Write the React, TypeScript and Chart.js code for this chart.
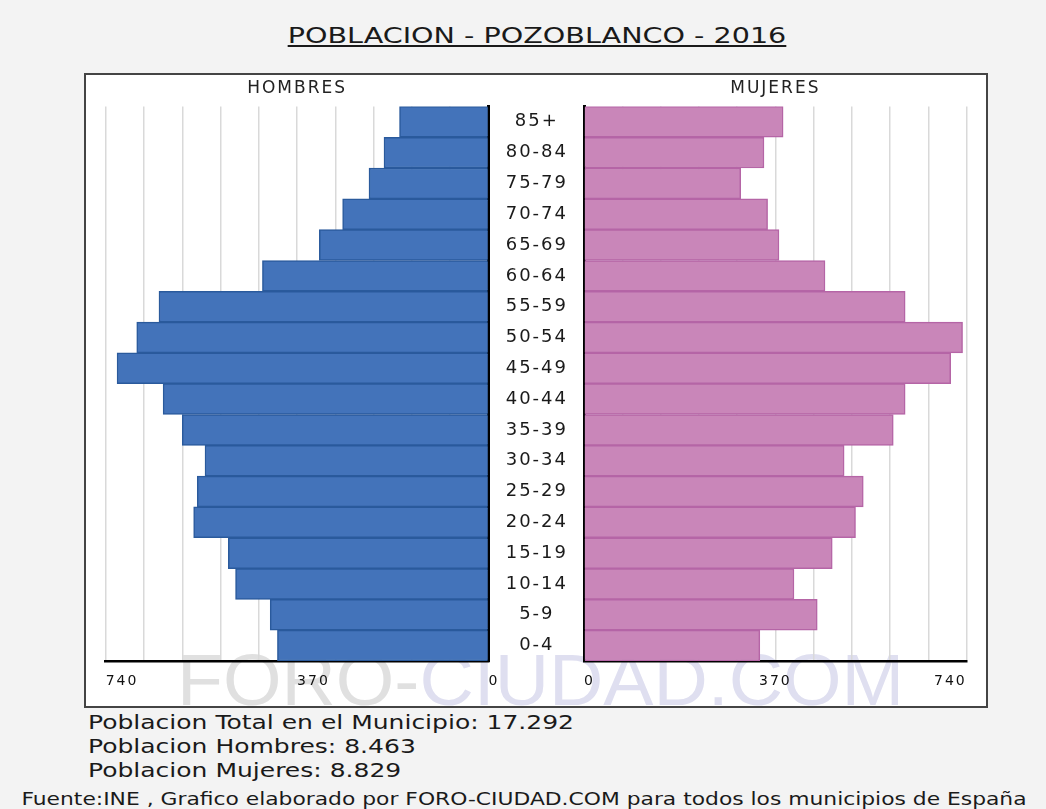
import React, { useEffect, useRef } from 'react';
import { Chart, registerables } from 'chart.js';

Chart.register(...registerables);

// ---- data (top-level, small named arrays) ----
const ageGroups = ['0-4', '5-9', '10-14', '15-19', '20-24', '25-29', '30-34', '35-39', '40-44', '45-49', '50-54', '55-59', '60-64', '65-69', '70-74', '75-79', '80-84', '85+'];
const hombres = [408, 422, 489, 503, 570, 563, 548, 592, 629, 718, 680, 637, 437, 327, 282, 231, 202, 172];
const mujeres = [340, 451, 406, 480, 525, 540, 503, 598, 621, 709, 732, 621, 466, 377, 355, 303, 348, 385];
const axisMax = 740;
const gridStep = 74;
const tickLabels = [0, 370, 740];
const titleText = 'POBLACION - POZOBLANCO - 2016';
const summaryLines = ['Poblacion Total en el Municipio: 17.292', 'Poblacion Hombres: 8.463', 'Poblacion Mujeres: 8.829'];
const footerText = 'Fuente:INE , Grafico elaborado por FORO-CIUDAD.COM para todos los municipios de España';

const FONT = 'DejaVu Sans';

const spacingPlugin = {
  id: 'letterSpacing',
  beforeLayout(chart: any) { chart.ctx.letterSpacing = '2px'; },
  beforeDraw(chart: any) { chart.ctx.letterSpacing = '2px'; },
};

function xScale(isLeft: boolean) {
  return {
    type: 'linear',
    reverse: isLeft,
    min: 0,
    max: axisMax,
    ticks: {
      stepSize: gridStep,
      autoSkip: false,
      maxRotation: 0,
      align: isLeft ? 'start' : 'inner',
      padding: 12,
      color: '#111',
      font: { family: FONT, size: 14 },
      callback: (v: any) => (tickLabels.includes(Number(v)) ? String(v) : ''),
    },
    grid: { color: '#d9d9d9', lineWidth: 1.5, drawTicks: false },
    border: { display: true, color: '#000', width: 2.5 },
    afterFit: (s: any) => { s.height = 30; s.paddingLeft = 0; s.paddingRight = 0; },
  };
}

function makeChart(canvas: HTMLCanvasElement, side: 'left' | 'right') {
  const isLeft = side === 'left';
  return new Chart(canvas, {
    type: 'bar',
    data: {
      labels: ageGroups,
      datasets: [{
        data: isLeft ? hombres : mujeres,
        backgroundColor: isLeft ? '#4373ba' : '#c986b9',
        borderColor: isLeft ? '#2a5a9c' : '#b565a6',
        borderWidth: 1.5,
        barPercentage: 1,
        categoryPercentage: 1,
      }],
    },
    options: {
      indexAxis: 'y',
      animation: false,
      responsive: false,
      maintainAspectRatio: false,
      layout: { padding: isLeft ? { left: 5.7, right: 13.5, top: 0, bottom: 0 } : { left: 0, right: 2.3, top: 0, bottom: 0 } },
      plugins: {
        legend: { display: false },
        tooltip: { enabled: false },
        title: {
          display: true,
          text: isLeft ? 'HOMBRES' : 'MUJERES',
          fullSize: false,
          color: '#222',
          font: { family: FONT, size: 17, weight: 'normal' },
          padding: { top: 4, bottom: 8 },
        },
      },
      scales: {
        x: xScale(isLeft) as any,
        y: {
          type: 'category',
          position: isLeft ? 'right' : 'left',
          reverse: true,
          ticks: isLeft
            ? { display: false }
            : { display: true, autoSkip: false, crossAlign: 'center', padding: 16, color: '#1a1a1a', font: { family: FONT, size: 18 } },
          grid: { display: false, drawTicks: false },
          border: { display: true, color: '#000', width: 3 },
          afterFit: (s: any) => { s.width = isLeft ? 0 : 95; s.paddingTop = 0; s.paddingBottom = 0; },
        } as any,
      },
    },
    plugins: [spacingPlugin],
  } as any);
}

export default function App() {
  const leftRef = useRef<HTMLCanvasElement>(null);
  const rightRef = useRef<HTMLCanvasElement>(null);

  useEffect(() => {
    const a = makeChart(leftRef.current!, 'left');
    const b = makeChart(rightRef.current!, 'right');
    return () => { a.destroy(); b.destroy(); };
  }, []);

  return (
    <div style={{ position: 'absolute', left: 0, top: 0, width: 1046, height: 809, background: '#f3f3f3', overflow: 'hidden', fontFamily: FONT, color: '#1a1a1a' }}>
      {/* title */}
      <div style={{ position: 'absolute', left: 14, top: 23, width: 1046, textAlign: 'center', fontSize: 22, lineHeight: '26px', whiteSpace: 'nowrap', transform: 'scaleX(1.3)' }}>
        <span style={{ textDecoration: 'underline', textDecorationThickness: '2px', textUnderlineOffset: '2px' }}>{titleText}</span>
      </div>
      {/* plot box */}
      <div style={{ position: 'absolute', left: 84, top: 73, width: 904, height: 635, boxSizing: 'border-box', border: '2px solid #444', background: '#fff' }} />
      {/* watermark */}
      <div style={{ position: 'absolute', left: 177, top: 644, fontFamily: 'Liberation Sans', fontSize: 72, lineHeight: '72px', whiteSpace: 'nowrap', transformOrigin: '0 50%', transform: 'scaleX(1.045)' }}>
        <span style={{ color: '#e0e0e0' }}>FORO-</span><span style={{ color: '#dfdff0' }}>CIUDAD.COM</span>
      </div>
      <canvas ref={leftRef} width={402} height={617} style={{ position: 'absolute', left: 100, top: 74 }} />
      <canvas ref={rightRef} width={480} height={617} style={{ position: 'absolute', left: 489, top: 74 }} />
      {/* summary */}
      {summaryLines.map((t, i) => (
        <div key={i} style={{ position: 'absolute', left: 88, top: 710 + i * 24, fontSize: 20, lineHeight: '24px', whiteSpace: 'nowrap', transformOrigin: '0 50%', transform: 'scaleX(1.25)' }}>{t}</div>
      ))}
      {/* footer */}
      <div style={{ position: 'absolute', left: 0, top: 789, width: 1048, textAlign: 'center', fontSize: 17, lineHeight: '20px', whiteSpace: 'nowrap', transform: 'scaleX(1.283)' }}>{footerText}</div>
    </div>
  );
}
